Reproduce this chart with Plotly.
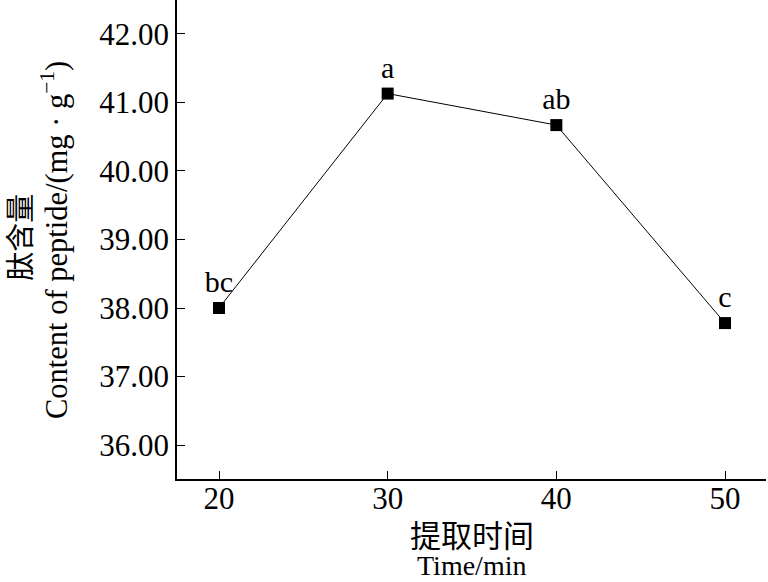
import plotly.graph_objects as go

times = [20, 30, 40, 50]
peptide = [38.00, 41.13, 40.67, 37.78]
letters = ["bc", "a", "ab", "c"]
y_ticks = [36, 37, 38, 39, 40, 41, 42, 42.49]
y_ticklabels = ["36.00", "37.00", "38.00", "39.00", "40.00", "41.00", "42.00", ""]
x_ticks = [20, 30, 40, 50, 52.4]
x_ticklabels = ["20", "30", "40", "50", ""]

SERIF = "Liberation Serif"
CJK = "Noto Sans CJK SC"

fig = go.Figure()
fig.add_trace(go.Scatter(
    x=times, y=peptide, mode="lines+markers+text",
    text=letters, textposition="top center",
    textfont=dict(family=SERIF, size=30, color="black"),
    line=dict(color="black", width=1),
    marker=dict(symbol="square", size=12, color="black"),
    showlegend=False, cliponaxis=False,
))

fig.update_layout(
    width=768, height=582,
    margin=dict(l=177, r=2, t=0, b=103),
    paper_bgcolor="white", plot_bgcolor="white",
    font=dict(family=SERIF, size=30, color="black"),
    xaxis=dict(range=[17.51, 52.43], tickvals=x_ticks, ticktext=x_ticklabels,
               ticks="inside", ticklen=8, ticklabelstandoff=-9,
               tickcolor="black", tickwidth=1, showline=True, linecolor="black",
               linewidth=1.5, showgrid=False, zeroline=False,
               tickfont=dict(family=SERIF, size=31, color="black")),
    yaxis=dict(range=[35.504, 42.496], tickvals=y_ticks, ticktext=y_ticklabels,
               ticks="inside", ticklen=8, tickcolor="black", tickwidth=1,
               showline=True, linecolor="black", linewidth=1.5, showgrid=False,
               zeroline=False, tickfont=dict(family=SERIF, size=31, color="black")),
)

fig.add_annotation(xref="paper", yref="paper", x=0.5, y=-0.1148, yanchor="middle",
                   text="提取时间", showarrow=False,
                   font=dict(family=CJK, size=31, color="black"))
fig.add_annotation(xref="paper", yref="paper", x=0.5, y=-0.181, yanchor="middle",
                   text="Time/min", showarrow=False,
                   font=dict(family=SERIF, size=28, color="black"))
fig.add_annotation(xref="paper", yref="paper", x=-0.2705, y=0.505, xanchor="center",
                   yanchor="middle", text="肽含量", textangle=-90, showarrow=False,
                   font=dict(family=CJK, size=29, color="black"))
fig.add_annotation(xref="paper", yref="paper", x=-0.207, y=0.499, xanchor="center",
                   yanchor="middle", text="Content of peptide/(mg · g<sup>−1</sup>)",
                   textangle=-90, showarrow=False,
                   font=dict(family=SERIF, size=30.5, color="black"))

fig.write_html("out.html", post_script="document.body.style.margin='0';",
               config={"displayModeBar": False})
